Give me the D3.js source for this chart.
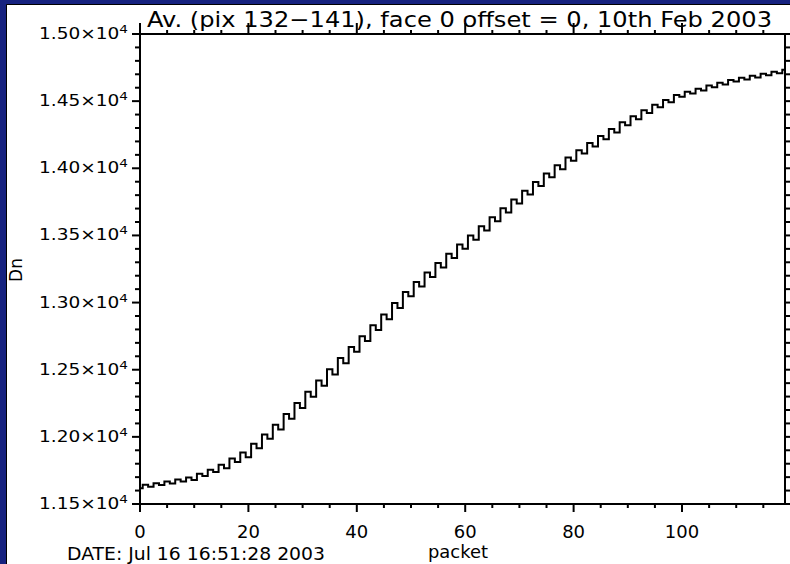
<!DOCTYPE html>
<html>
<head>
<meta charset="utf-8">
<script src="https://cdn.jsdelivr.net/npm/d3@7"></script>
<style>
  html, body { margin: 0; padding: 0; background: #16227f; }
  svg { display: block; }
</style>
</head>
<body>
<div id="viz"></div>
<script>
const WIDTH = 790, HEIGHT = 564;

// Dn per packet
const dn = [
  11617, 11643, 11629, 11655, 11641, 11668, 11653, 11683, 11668, 11698,
  11678, 11725, 11708, 11755, 11738, 11793, 11767, 11838, 11812, 11883,
  11848, 11948, 11916, 12017, 11985, 12090, 12054, 12171, 12135, 12252,
  12214, 12336, 12298, 12419, 12381, 12503, 12465, 12587, 12548, 12670,
  12634, 12750, 12714, 12831, 12795, 12912, 12876, 12996, 12959, 13079,
  13047, 13153, 13119, 13224, 13190, 13294, 13262, 13363, 13331, 13432,
  13400, 13500, 13468, 13569, 13537, 13636, 13605, 13702, 13671, 13768,
  13738, 13833, 13804, 13898, 13869, 13962, 13934, 14022, 13993, 14081,
  14056, 14135, 14110, 14188, 14163, 14241, 14216, 14292, 14267, 14343,
  14321, 14387, 14366, 14432, 14411, 14473, 14455, 14509, 14491, 14545,
  14532, 14570, 14556, 14593, 14579, 14616, 14603, 14637, 14624, 14658,
  14646, 14675, 14661, 14690, 14676, 14704, 14692, 14719, 14707, 14734
];
const packets = dn.map((d, i) => i);

const xMajor = [0, 20, 40, 60, 80, 100];
const yMajor = [11500, 12000, 12500, 13000, 13500, 14000, 14500, 15000];
const yLabels = ["1.15", "1.20", "1.25", "1.30", "1.35", "1.40", "1.45", "1.50"];

const titleText = "Av. (pix 132\u2212141), face 0 offset = 0, 10th Feb 2003";
const dateText = "DATE: Jul 16 16:51:28 2003";

const m = { left: 140, right: 785, top: 34, bottom: 504 };
const x = d3.scaleLinear().domain([0, 119]).range([m.left, m.right]);
const y = d3.scaleLinear().domain([11500, 15000]).range([m.bottom, m.top]);

const svg = d3.select("#viz").append("svg")
  .attr("width", WIDTH)
  .attr("height", HEIGHT);

svg.append("rect")
  .attr("width", WIDTH).attr("height", HEIGHT)
  .attr("fill", "#16227f");
svg.append("rect")
  .attr("x", 7).attr("y", 5)
  .attr("width", WIDTH - 7).attr("height", HEIGHT - 5)
  .attr("fill", "#fff");
svg.append("path")
  .attr("d", `M6.5,${HEIGHT}V4.5H${WIDTH}`)
  .attr("fill", "none")
  .attr("stroke", "#000")
  .attr("stroke-width", 1);

const font = "'DejaVu Sans', sans-serif";

// title
svg.append("text")
  .attr("x", 147).attr("y", 27)
  .attr("font-family", font)
  .attr("font-size", 22)
  .attr("textLength", 625)
  .attr("lengthAdjust", "spacingAndGlyphs")
  .text(titleText);

// axes with outward ticks
const axes = svg.append("g").attr("stroke", "#000").attr("stroke-width", 2);

const xMinor = d3.range(0, 120, 5);
xMinor.forEach(v => {
  const big = xMajor.includes(v);
  axes.append("line")
    .attr("x1", x(v)).attr("x2", x(v))
    .attr("y1", m.bottom).attr("y2", m.bottom + (big ? 8 : 4));
  axes.append("line")
    .attr("x1", x(v)).attr("x2", x(v))
    .attr("y1", m.top).attr("y2", m.top - (big ? 11 : 4));
});

const yMinor = d3.range(11500, 15001, 100);
yMinor.forEach(v => {
  const big = v % 500 === 0;
  axes.append("line")
    .attr("x1", m.left).attr("x2", m.left - (big ? 8 : 5))
    .attr("y1", y(v)).attr("y2", y(v));
  axes.append("line")
    .attr("x1", m.right).attr("x2", m.right + (big ? 6 : 5))
    .attr("y1", y(v)).attr("y2", y(v));
});

axes.append("rect")
  .attr("x", m.left).attr("y", m.top)
  .attr("width", m.right - m.left).attr("height", m.bottom - m.top)
  .attr("fill", "none");

// x tick labels
svg.append("g")
  .selectAll("text")
  .data(xMajor)
  .join("text")
  .attr("x", d => x(d))
  .attr("y", 538)
  .attr("text-anchor", "middle")
  .attr("font-family", font)
  .attr("font-size", 18)
  .text(d => d);

// y tick labels  1.50x10^4
const yl = svg.append("g")
  .selectAll("text")
  .data(yMajor)
  .join("text")
  .attr("x", 128)
  .attr("y", d => y(d) + 5)
  .attr("text-anchor", "end")
  .attr("font-family", font)
  .attr("font-size", 15)
  .attr("textLength", 89)
  .attr("lengthAdjust", "spacingAndGlyphs");
yl.append("tspan").text((d, i) => yLabels[i] + "\u00d710");
yl.append("tspan")
  .attr("dy", -6)
  .attr("font-size", 11)
  .text("4");

// axis titles
svg.append("text")
  .attr("x", 67).attr("y", 560)
  .attr("font-family", font)
  .attr("font-size", 17)
  .attr("textLength", 258)
  .attr("lengthAdjust", "spacingAndGlyphs")
  .text(dateText);

svg.append("text")
  .attr("x", 428).attr("y", 558)
  .attr("font-family", font)
  .attr("font-size", 17)
  .attr("textLength", 60)
  .attr("lengthAdjust", "spacingAndGlyphs")
  .text("packet");

svg.append("text")
  .attr("transform", "translate(22,270) rotate(-90)")
  .attr("text-anchor", "middle")
  .attr("font-family", font)
  .attr("font-size", 17)
  .text("Dn");

// histogram-style line
const line = d3.line()
  .x((d, i) => x(packets[i]))
  .y(d => y(d))
  .curve(d3.curveStep);

svg.append("path")
  .datum(dn)
  .attr("d", line)
  .attr("fill", "none")
  .attr("stroke", "#000")
  .attr("stroke-width", 2);
</script>
</body>
</html>
